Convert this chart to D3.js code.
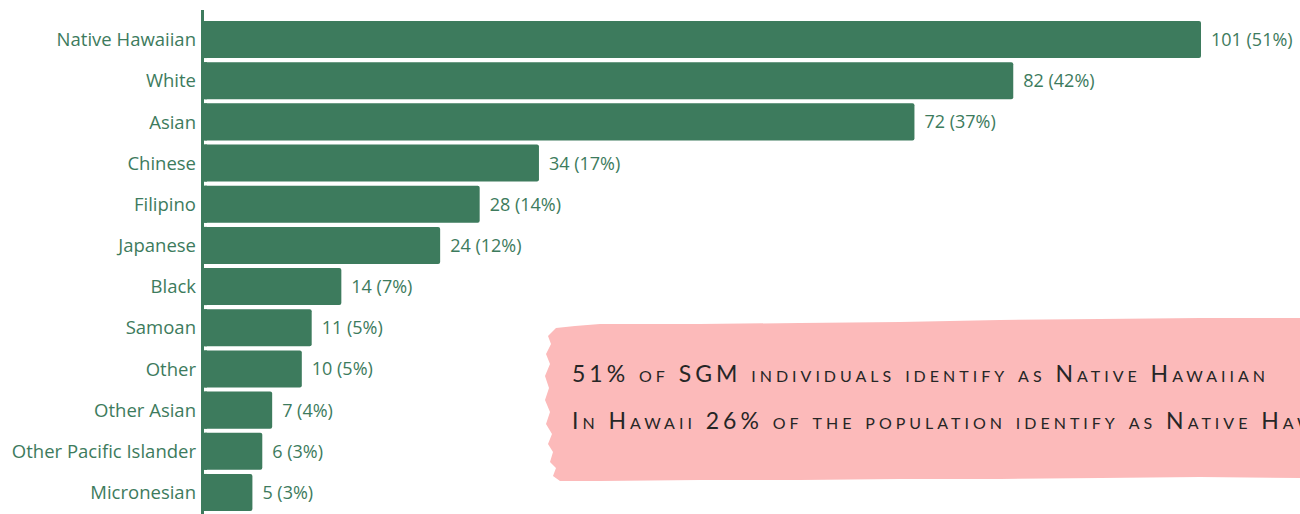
<!DOCTYPE html>
<html>
<head>
<meta charset="utf-8">
<script src="https://cdn.jsdelivr.net/npm/d3@7"></script>
<style>
  body { margin: 0; background: #fff; }
  svg { display: block; }
</style>
</head>
<body>
<svg id="chart" width="1300" height="514"></svg>
<script>
var categories = ["Native Hawaiian", "White", "Asian", "Chinese", "Filipino", "Japanese",
  "Black", "Samoan", "Other", "Other Asian", "Other Pacific Islander", "Micronesian"];
var counts = [101, 82, 72, 34, 28, 24, 14, 11, 10, 7, 6, 5];
var percents = [51, 42, 37, 17, 14, 12, 7, 5, 5, 4, 3, 3];
var notes = [
  "51% of SGM individuals identify as Native Hawaiian",
  "In Hawaii 26% of the population identify as Native Hawaiian"
];

var green = "#3d7b5d";
var svg = d3.select("#chart");

var rows = categories.map(function (c, i) {
  return { name: c, count: counts[i], pct: percents[i] };
});

var x = d3.scaleLinear().domain([0, 101]).range([203, 1201]);
var y = d3.scaleBand().domain(categories).range([21, 511]).paddingInner(0.1);

// bars
svg.selectAll("rect.bar")
  .data(rows)
  .enter().append("rect")
    .attr("class", "bar")
    .attr("x", x(0))
    .attr("y", function (d) { return y(d.name); })
    .attr("width", function (d) { return x(d.count) - x(0); })
    .attr("height", y.bandwidth())
    .attr("rx", 2)
    .attr("fill", green);

// cover the left rounding so bars sit flush on the axis
svg.selectAll("rect.flush")
  .data(rows)
  .enter().append("rect")
    .attr("x", x(0))
    .attr("y", function (d) { return y(d.name); })
    .attr("width", 4)
    .attr("height", y.bandwidth())
    .attr("fill", green);

// axis line
svg.append("line")
  .attr("x1", 202.5).attr("x2", 202.5)
  .attr("y1", 10).attr("y2", 514)
  .attr("stroke", green)
  .attr("stroke-width", 3);

// category labels
svg.selectAll("text.cat")
  .data(rows)
  .enter().append("text")
    .attr("class", "cat")
    .attr("x", 196)
    .attr("y", function (d) { return y(d.name) + y.bandwidth() / 2; })
    .attr("dy", "0.36em")
    .attr("text-anchor", "end")
    .style("font", "18.5px 'Open Sans'")
    .attr("fill", green)
    .text(function (d) { return d.name; });

// value labels
svg.selectAll("text.val")
  .data(rows)
  .enter().append("text")
    .attr("class", "val")
    .attr("x", function (d) { return x(d.count) + 10; })
    .attr("y", function (d) { return y(d.name) + y.bandwidth() / 2; })
    .attr("dy", "0.36em")
    .style("font", "18px 'Open Sans'")
    .attr("fill", green)
    .text(function (d) { return d.count + " (" + d.pct + "%)"; });

// pink brush-stroke note
var brush = [
  [556, 328], [575, 326], [600, 324], [700, 324], [800, 323], [900, 322],
  [1000, 320], [1100, 319], [1200, 318], [1300, 318],
  [1300, 478], [1200, 477], [1100, 478], [1000, 479], [900, 479], [800, 480],
  [700, 480], [600, 481], [560, 481], [553, 476], [556, 468], [550, 462],
  [553, 452], [548, 444], [552, 434], [546, 424], [550, 412], [545, 400],
  [549, 388], [545, 376], [550, 364], [546, 354], [551, 344], [548, 336]
];
svg.append("path")
  .attr("d", d3.line().curve(d3.curveLinearClosed)(brush))
  .attr("fill", "#fcbaba");

var noteText = svg.selectAll("text.note")
  .data(notes)
  .enter().append("text")
    .attr("class", "note")
    .attr("x", 572)
    .attr("y", function (d, i) { return 382 + i * 47; })
    .style("font-family", "Lato")
    .style("font-size", "23px")
    .style("font-variant", "small-caps")
    .attr("fill", "#262626")
    .text(function (d) { return d; });

// spread the first line to its width, same spacing on the second
var first = noteText.nodes()[0];
var natural = first.getComputedTextLength();
var spacing = (693 - natural) / (notes[0].length - 1);
noteText.style("letter-spacing", spacing + "px");
</script>
</body>
</html>
